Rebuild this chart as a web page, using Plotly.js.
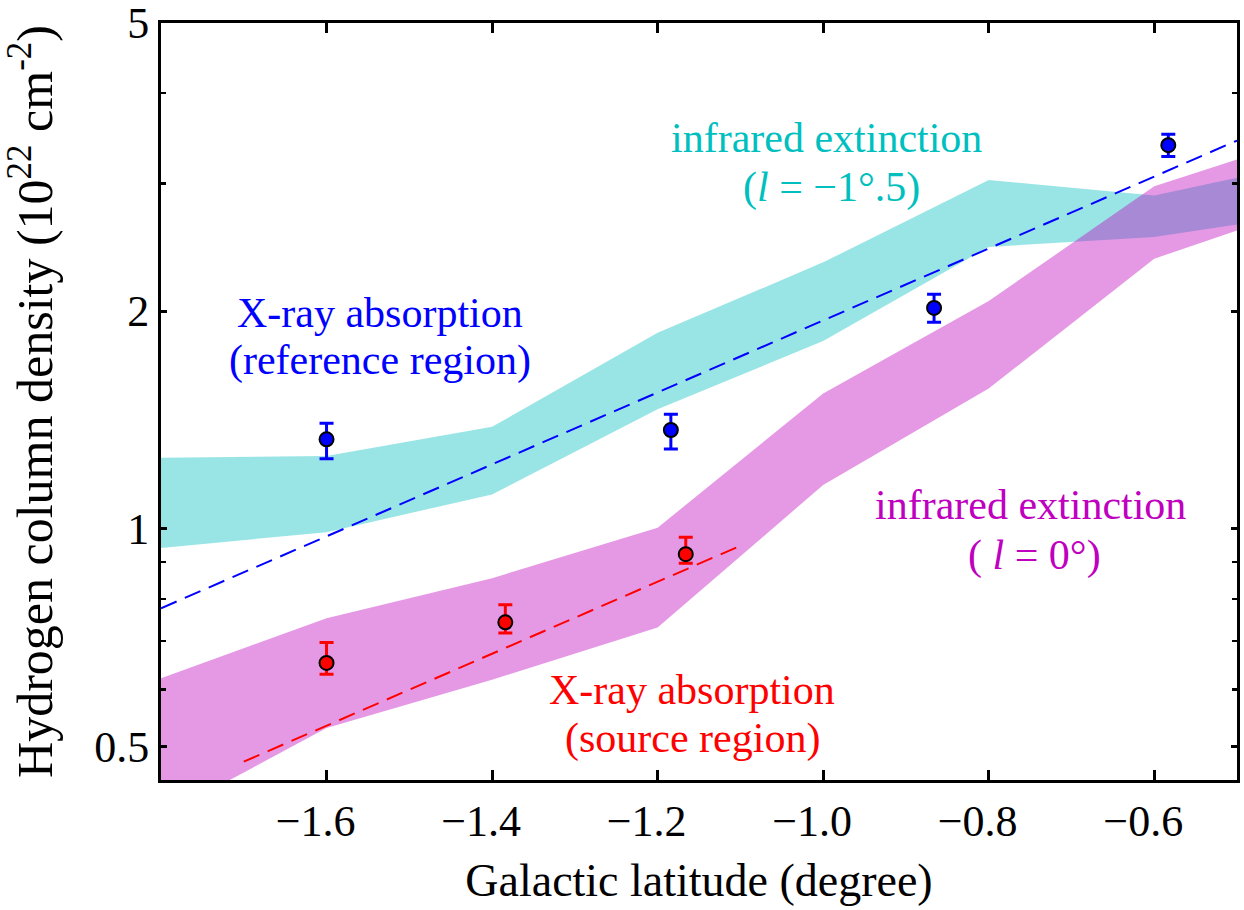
<!DOCTYPE html>
<html>
<head>
<meta charset="utf-8">
<script src="https://cdn.plot.ly/plotly-3.0.1.min.js"></script>
<style>
  html, body { margin: 0; padding: 0; background: #ffffff; }
  #chart { width: 1244px; height: 910px; }
</style>
</head>
<body>
<div id="chart"></div>
<script>
// ---- Data ----
// Galactic latitude grid of the infrared-extinction bands
const bandX = [-1.8, -1.6, -1.4, -1.2, -1.0, -0.8, -0.6, -0.5];
// infrared extinction, l = -1.5 deg (cyan band)
const cyanUpper = [1.254, 1.261, 1.384, 1.866, 2.335, 3.035, 2.889, 3.056];
const cyanLower = [0.941, 0.990, 1.116, 1.463, 1.818, 2.452, 2.531, 2.633];
// infrared extinction, l = 0 deg (magenta band)
const magUpper = [0.622, 0.753, 0.855, 1.004, 1.539, 2.065, 2.975, 3.238];
const magLower = [0.400, 0.531, 0.619, 0.731, 1.150, 1.563, 2.362, 2.585];

// X-ray absorption, reference region (blue points)
const refX  = [-1.600, -1.184, -0.866, -0.583];
const refY  = [1.33, 1.37, 2.02, 3.39];
const refHi = [1.40, 1.44, 2.11, 3.51];
const refLo = [1.25, 1.29, 1.93, 3.27];

// X-ray absorption, source region (red points)
const srcX  = [-1.600, -1.384, -1.166];
const srcY  = [0.653, 0.743, 0.923];
const srcHi = [0.697, 0.786, 0.974];
const srcLo = [0.630, 0.718, 0.897];

// exponential fits (dashed lines), end points
const refFitX = [-1.8, -0.5];
const refFitY = [0.777, 3.44];
const srcFitX = [-1.7, -1.1];
const srcFitY = [0.477, 0.948];

// axis ticks
const xTicks = [-1.6, -1.4, -1.2, -1.0, -0.8, -0.6];
const xTickText = ['\u22121.6', '\u22121.4', '\u22121.2', '\u22121.0', '\u22120.8', '\u22120.6'];
const yTicks = [0.5, 1, 2, 5];
const yTickText = ['0.5', '1', '2', '5'];
const yMinorTicks = [0.6, 0.7, 0.8, 0.9, 3, 4];

// ---- helpers ----
function band(x, up, lo) {
  return {
    x: x.concat(x.slice().reverse()),
    y: up.concat(lo.slice().reverse())
  };
}
const cyanBand = band(bandX, cyanUpper, cyanLower);
const magBand = band(bandX, magUpper, magLower);

const FONT = 'Liberation Serif, DejaVu Serif, serif';

const traces = [
  {
    x: cyanBand.x, y: cyanBand.y, type: 'scatter', mode: 'lines',
    fill: 'toself', fillcolor: 'rgba(0,191,191,0.4)',
    line: { width: 0, color: 'rgba(0,0,0,0)' }, hoverinfo: 'skip', showlegend: false
  },
  {
    x: magBand.x, y: magBand.y, type: 'scatter', mode: 'lines',
    fill: 'toself', fillcolor: 'rgba(191,0,191,0.4)',
    line: { width: 0, color: 'rgba(0,0,0,0)' }, hoverinfo: 'skip', showlegend: false
  },
  {
    x: refFitX, y: refFitY, type: 'scatter', mode: 'lines',
    line: { color: '#0000ff', width: 2, dash: '17px,9px' }, showlegend: false
  },
  {
    x: srcFitX, y: srcFitY, type: 'scatter', mode: 'lines',
    line: { color: '#ff0000', width: 2, dash: '17px,9px' }, showlegend: false
  },
  {
    x: refX, y: refY, type: 'scatter', mode: 'markers',
    marker: { size: 14, color: '#0000ff', line: { color: '#000000', width: 2 } },
    error_y: {
      type: 'data', symmetric: false,
      array: refHi.map((v, i) => v - refY[i]),
      arrayminus: refY.map((v, i) => v - refLo[i]),
      color: '#0000ff', thickness: 3, width: 7
    },
    showlegend: false
  },
  {
    x: srcX, y: srcY, type: 'scatter', mode: 'markers',
    marker: { size: 14, color: '#ff0000', line: { color: '#000000', width: 2 } },
    error_y: {
      type: 'data', symmetric: false,
      array: srcHi.map((v, i) => v - srcY[i]),
      arrayminus: srcY.map((v, i) => v - srcLo[i]),
      color: '#ff0000', thickness: 3, width: 7
    },
    showlegend: false
  }
];

const L = 161, T = 23, W = 1076, H = 757;
function px(x) { return (x - L) / W; }
function py(y) { return (T + H - y) / H; }

function ann(text, x, y, color) {
  return {
    text: text, xref: 'paper', yref: 'paper', x: px(x), y: py(y),
    xanchor: 'center', yanchor: 'middle', showarrow: false,
    font: { family: FONT, size: 42, color: color }
  };
}

const layout = {
  width: 1244, height: 910,
  margin: { l: L, r: 1244 - L - W, t: T, b: 910 - T - H },
  paper_bgcolor: '#ffffff', plot_bgcolor: '#ffffff',
  font: { family: FONT, size: 42, color: '#000000' },
  showlegend: false,
  xaxis: {
    range: [-1.8, -0.5],
    tickmode: 'array', tickvals: xTicks, ticktext: xTickText.map(t => t + '\u00a0\u00a0'),
    ticks: 'inside', ticklen: 10, tickwidth: 3, tickcolor: '#000000',
    showline: true, linewidth: 3, linecolor: '#000000', mirror: 'ticks',
    showgrid: false, zeroline: false, ticklabeloverflow: 'allow',
    tickfont: { family: FONT, size: 44, color: '#000000' },
    title: { text: 'Galactic latitude (degree)', font: { family: FONT, size: 46, color: '#000000' }, standoff: 20 }
  },
  yaxis: {
    type: 'log',
    range: [Math.log10(0.45), Math.log10(5)],
    tickmode: 'array', tickvals: yTicks, ticktext: yTickText,
    ticks: 'inside', ticklen: 6, tickwidth: 3, tickcolor: '#000000',
    minor: { tickmode: 'array', tickvals: yMinorTicks, ticks: 'inside', ticklen: 5, tickwidth: 2.5, tickcolor: '#000000', showgrid: false },
    showline: true, linewidth: 3, linecolor: '#000000', mirror: 'ticks',
    showgrid: false, zeroline: false, ticklabeloverflow: 'allow',
    tickfont: { family: FONT, size: 44, color: '#000000' },
    title: { text: 'Hydrogen column density (10<sup>22</sup> cm<sup>-2</sup>)', font: { family: FONT, size: 50, color: '#000000' }, standoff: 42 }
  },
  annotations: [
    ann('X-ray absorption', 380, 313, '#0000ff'),
    ann('(reference region)', 380, 360, '#0000ff'),
    ann('infrared extinction', 826, 138, '#00bfbf'),
    ann('(<i>l</i> = \u22121\u00b0.5)', 831, 188, '#00bfbf'),
    ann('infrared extinction', 1030, 505, '#bf00bf'),
    ann('( <i>l</i> = 0\u00b0)', 1034, 555, '#bf00bf'),
    ann('X-ray absorption', 692, 690, '#ff0000'),
    ann('(source region)', 692, 738, '#ff0000')
  ]
};

Plotly.newPlot('chart', traces, layout, { staticPlot: true, displayModeBar: false });
</script>
</body>
</html>
